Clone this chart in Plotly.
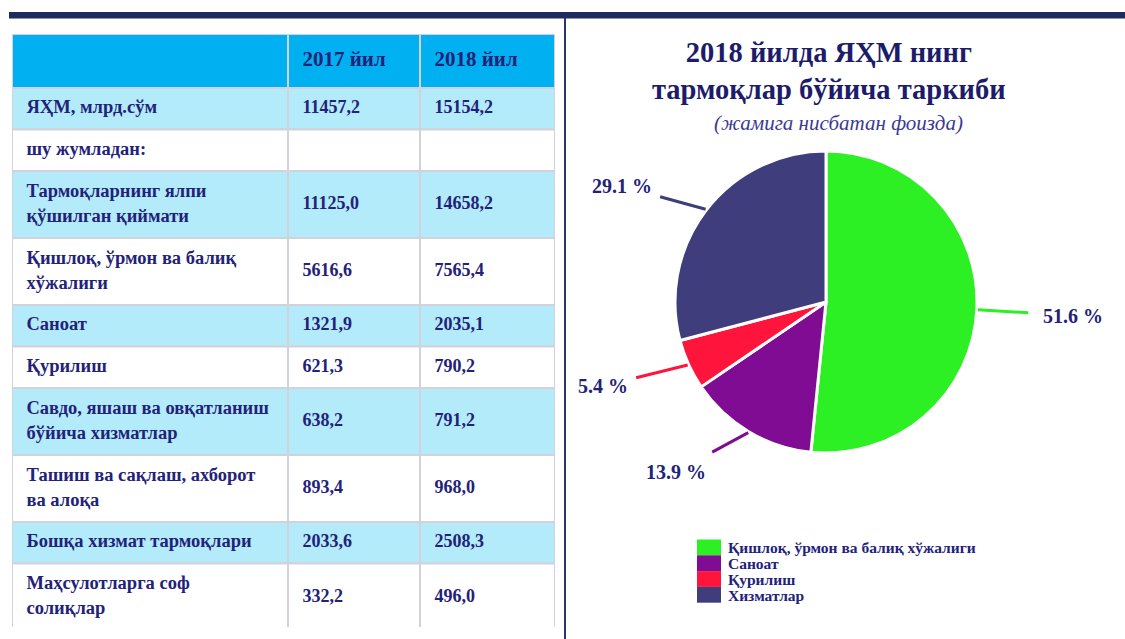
import math
import plotly.graph_objects as go

# ---------------- data ----------------
header_labels = ["", "2017 йил", "2018 йил"]
row_labels = [
    "ЯҲМ, млрд.сўм",
    "шу жумладан:",
    "Тармоқларнинг ялпи<br>қўшилган қиймати",
    "Қишлоқ, ўрмон ва балиқ<br>хўжалиги",
    "Саноат",
    "Қурилиш",
    "Савдо, яшаш ва овқатланиш<br>бўйича хизматлар",
    "Ташиш ва сақлаш, ахборот<br>ва алоқа",
    "Бошқа хизмат тармоқлари",
    "Маҳсулотларга соф<br>солиқлар",
]
vals_2017 = ["11457,2", "", "11125,0", "5616,6", "1321,9", "621,3", "638,2", "893,4", "2033,6", "332,2"]
vals_2018 = ["15154,2", "", "14658,2", "7565,4", "2035,1", "790,2", "791,2", "968,0", "2508,3", "496,0"]

pie_labels = ["Қишлоқ, ўрмон ва балиқ хўжалиги", "Саноат", "Қурилиш", "Хизматлар"]
pie_values = [51.6, 13.9, 5.4, 29.1]

title_text = "2018 йилда ЯҲМ нинг<br>тармоқлар бўйича таркиби"
subtitle_text = "(жамига нисбатан фоизда)"

# ---------------- style ----------------
W, H = 1125, 639
TXT = "#222278"
TITLE_C = "#1c1c6b"
FONT = "Liberation Serif, Times New Roman, serif"
HEADER_FILL = "#00b0f0"
BAND_FILL = "#b3ebfb"
GRID = "#d2d2dc"
pie_colors = ["#2cf024", "#7f0c92", "#ff143c", "#3f3d7b"]

col_widths = [276, 132, 135]
HEADER_H = 54
SINGLE_H = 41.5
DOUBLE_H = 67
LINE_GAP = 25
TEXT_INSET = 14.5
TABLE_TOP, TABLE_BOTTOM = 34, 627
TABLE_LEFT, TABLE_RIGHT = 12, 555


def px_x(x):
    return x / W


def px_y(y):
    return 1 - y / H


fig = go.Figure()

# ---------------- table (drawn on its own pixel-unit axes) ----------------
row_h = [HEADER_H] + [DOUBLE_H if "<br>" in l else SINGLE_H for l in row_labels]
row_top = []
acc = 0
for h in row_h:
    row_top.append(acc)
    acc += h
row_mid = [t + h / 2 for t, h in zip(row_top, row_h)]
col_left = [sum(col_widths[:i]) for i in range(len(col_widths))]
fills = [HEADER_FILL] + [BAND_FILL if i % 2 == 0 else "white" for i in range(len(row_labels))]

for j, (cl, cw) in enumerate(zip(col_left, col_widths)):
    fig.add_trace(go.Bar(
        orientation="h",
        y=row_mid, x=[cw] * len(row_mid), base=[cl] * len(row_mid),
        width=row_h,
        marker=dict(color=fills, line=dict(color=GRID, width=2)),
        hoverinfo="skip", showlegend=False,
        xaxis="x", yaxis="y",
    ))

# header texts
hx, hy, ht = [], [], []
for j, h in enumerate(header_labels):
    if h:
        hx.append(col_left[j] + TEXT_INSET)
        hy.append(row_mid[0])
        ht.append("<b>" + h + "</b>")
fig.add_trace(go.Scatter(
    x=hx, y=hy, text=ht, mode="text", textposition="middle right",
    textfont=dict(family=FONT, size=21, color=TXT),
    hoverinfo="skip", showlegend=False, cliponaxis=False,
))

# row label texts (each line placed on its own)
lx, ly, lt = [], [], []
for i, lbl in enumerate(row_labels):
    parts = lbl.split("<br>")
    mid = row_mid[i + 1]
    n = len(parts)
    for k, p in enumerate(parts):
        lx.append(col_left[0] + TEXT_INSET)
        ly.append(mid + (k - (n - 1) / 2) * LINE_GAP)
        lt.append("<b>" + p + "</b>")
fig.add_trace(go.Scatter(
    x=lx, y=ly, text=lt, mode="text", textposition="middle right",
    textfont=dict(family=FONT, size=18.5, color=TXT),
    hoverinfo="skip", showlegend=False, cliponaxis=False,
))

# numeric columns
for j, vals in ((1, vals_2017), (2, vals_2018)):
    nx, ny, nt = [], [], []
    for i, v in enumerate(vals):
        if v:
            nx.append(col_left[j] + TEXT_INSET)
            ny.append(row_mid[i + 1])
            nt.append("<b>" + v + "</b>")
    fig.add_trace(go.Scatter(
        x=nx, y=ny, text=nt, mode="text", textposition="middle right",
        textfont=dict(family=FONT, size=18, color=TXT),
        hoverinfo="skip", showlegend=False, cliponaxis=False,
    ))

# ---------------- pie ----------------
pie_x0, pie_x1 = 675, 977
pie_y0, pie_y1 = 151, 453
fig.add_trace(go.Pie(
    labels=pie_labels,
    values=pie_values,
    sort=False,
    direction="clockwise",
    rotation=0,
    marker=dict(colors=pie_colors, line=dict(color="white", width=3)),
    textinfo="none",
    hoverinfo="label+value",
    domain=dict(x=[px_x(pie_x0), px_x(pie_x1)], y=[px_y(pie_y1), px_y(pie_y0)]),
    showlegend=False,
))

# leader-line labels at slice mid angles
cx, cy = (pie_x0 + pie_x1) / 2, (pie_y0 + pie_y1) / 2
r = (pie_x1 - pie_x0) / 2
label_offsets = [(95, 6), (-72, 39), (-85, 21), (-84, -23)]
label_pads = [14, 8, 8, 8]
total = sum(pie_values)
cum = 0
for v, col, (ox, oy), bp in zip(pie_values, pie_colors, label_offsets, label_pads):
    mid = (cum + v / 2) / total * 2 * math.pi
    cum += v
    ex = cx + (r + 1) * math.sin(mid)
    ey = cy - (r + 1) * math.cos(mid)
    fig.add_annotation(
        x=px_x(ex), y=px_y(ey), xref="paper", yref="paper",
        ax=ox, ay=oy, axref="pixel", ayref="pixel",
        text=f"<b>{v:.1f} %</b>",
        showarrow=True, arrowhead=0, arrowwidth=3, arrowcolor=col,
        borderpad=bp,
        font=dict(family=FONT, size=20, color=TXT),
    )

# legend (swatch column beneath the pie)
LEG_X, LEG_Y, SW_W, SW_H = 697, 539.5, 24, 15.8
for i, (lab, col) in enumerate(zip(pie_labels, pie_colors)):
    top = LEG_Y + i * SW_H
    fig.add_shape(type="rect", xref="paper", yref="paper",
                  x0=px_x(LEG_X), x1=px_x(LEG_X + SW_W),
                  y0=px_y(top + SW_H), y1=px_y(top),
                  fillcolor=col, line=dict(width=0))
    fig.add_annotation(
        x=px_x(LEG_X + SW_W + 5), y=px_y(top + SW_H / 2 + 0.5),
        xref="paper", yref="paper", xanchor="left", yanchor="middle",
        showarrow=False, text="<b>" + lab + "</b>",
        font=dict(family=FONT, size=15.5, color=TXT),
    )

# title
fig.add_annotation(
    x=px_x(828.5), y=px_y(71), xref="paper", yref="paper",
    xanchor="center", yanchor="middle", showarrow=False,
    text="<b>" + title_text + "</b>",
    font=dict(family=FONT, size=28.5, color=TITLE_C),
)
fig.add_annotation(
    x=px_x(838), y=px_y(123), xref="paper", yref="paper",
    xanchor="center", yanchor="middle", showarrow=False,
    text="<i>" + subtitle_text + "</i>",
    font=dict(family=FONT, size=21, color="#3a3a95"),
)

# frame decorations
fig.add_shape(type="rect", xref="paper", yref="paper",
              x0=px_x(9), x1=1, y0=px_y(18.5), y1=px_y(12),
              fillcolor="#1f2a5e", line=dict(width=0), layer="above")
fig.add_shape(type="line", xref="paper", yref="paper",
              x0=px_x(565), x1=px_x(565), y0=0, y1=px_y(18),
              line=dict(color="#2a3570", width=2))

fig.update_layout(
    width=W, height=H,
    margin=dict(l=0, r=0, t=0, b=0),
    paper_bgcolor="white",
    plot_bgcolor="rgba(0,0,0,0)",
    barmode="overlay",
    showlegend=False,
    xaxis=dict(domain=[px_x(TABLE_LEFT), px_x(TABLE_RIGHT)],
               range=[0, TABLE_RIGHT - TABLE_LEFT], visible=False, fixedrange=True),
    yaxis=dict(domain=[px_y(TABLE_BOTTOM), px_y(TABLE_TOP)],
               range=[TABLE_BOTTOM - TABLE_TOP, 0], visible=False, fixedrange=True),
)

fig.write_html("out.html", config={"displayModeBar": False},
               post_script="document.body.style.margin='0px';")
